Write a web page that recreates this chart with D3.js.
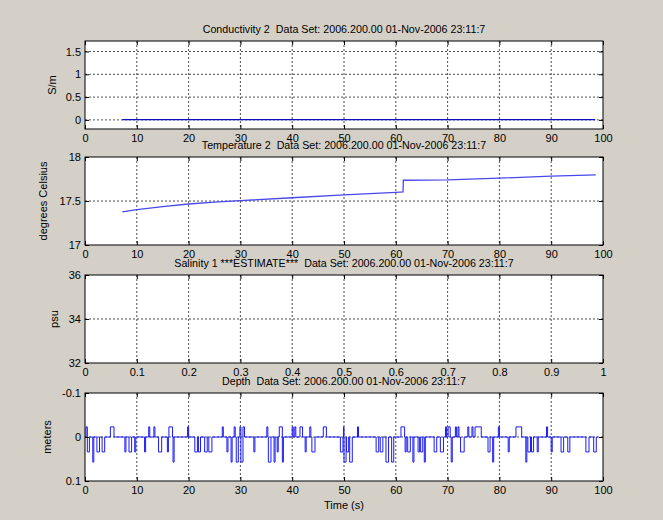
<html>
<head>
<style>
body { margin:0; background:#d4d0c8; }
text { font-family: Arial, "Liberation Sans", sans-serif; fill:#000; }
.tick text { font-size:11px; }
.title { font-size:10.7px; }
.label { font-size:11px; }
</style>
</head>
<body>
<svg id="plot"></svg>
<script src="https://d3js.org/d3.v7.min.js"></script>
<script>

// x ticks shared by the time plots
var timeTicks = [0,10,20,30,40,50,60,70,80,90,100]
var salXTicks = [0,0.1,0.2,0.3,0.4,0.5,0.6,0.7,0.8,0.9,1]

// Conductivity 2 (S/m) - flat near zero
var condT = [7.2, 20, 40, 60, 80, 98.5]
var condV = [0.005, 0.005, 0.005, 0.005, 0.005, 0.005]
var condTicks = [0,0.5,1,1.5]

// Temperature 2 (degrees C)
var tempT = [7.2, 10, 15, 20, 25, 30, 40, 50, 60, 61.4, 61.45, 70, 80, 90, 98.6]
var tempV = [17.377, 17.403, 17.437, 17.466, 17.487, 17.504, 17.537, 17.57, 17.598, 17.603, 17.736, 17.741, 17.76, 17.783, 17.798]
var tempTicks = [17,17.5,18]

// Salinity 1 - no data
var salTicks = [32,34,36]

// Depth (m) - pulses away from zero: start, end, level
var depthStart = [0.2,0.45,1.5,2.3,3.3,4.9,7.7,8.5,9.6,11.5,12.3,13.3,14.2,15.9,16.2,17.0,19.8,21.2,21.9,23.1,23.9,26.5,27.4,28.2,28.8,29.2,29.9,30.1,30.5,32.6,35.1,35.4,36.5,37.1,37.5,38.1,40.0,40.5,41.5,42.5,43.4,43.8,46.0,49.3,49.9,50.0,50.5,51.1,52.6,56.2,57.0,58.1,59.2,61.0,61.8,62.3,63.3,64.3,64.8,65.5,67.4,68.6,69.6,70.1,70.7,71.5,72.0,72.5,73.9,74.7,75.3,77.8,78.7,79.8,81.7,83.2,85.1,85.5,86.2,87.3,89.1,90.0,91.9,93.2,96.7,98.2]
var depthEnd = [0.45,0.85,1.7,2.8,3.8,5.6,7.9,9.0,9.8,11.7,12.5,13.5,14.8,16.1,16.9,17.2,20.0,21.7,22.3,23.6,24.5,26.7,27.6,28.4,29.0,29.6,30.1,30.5,30.8,32.8,35.3,35.9,36.7,37.3,38.1,38.3,40.2,40.7,42.0,42.7,43.6,44.4,46.6,49.8,50.0,50.4,50.9,51.6,52.8,56.7,57.5,58.6,59.6,61.7,62.0,62.8,63.5,64.6,65.2,65.7,67.9,69.2,69.8,70.5,70.9,71.7,72.2,73.2,74.1,74.9,76.5,78.2,78.9,80.0,81.9,84.3,85.3,86.0,86.6,87.5,89.3,90.2,92.4,93.6,97.3,98.7]
var depthLevel = [-0.023,0.034,0.057,0.034,0.034,-0.023,0.034,0.034,0.034,0.034,-0.023,-0.023,0.034,0.034,-0.023,0.057,-0.023,0.034,0.034,0.034,0.034,-0.023,0.034,0.057,-0.023,0.057,-0.023,0.057,-0.023,0.034,-0.023,0.057,0.057,0.034,-0.023,0.057,-0.023,-0.023,-0.023,0.034,-0.023,0.034,-0.023,0.034,-0.023,0.057,0.034,0.057,-0.023,0.034,0.034,0.057,0.057,-0.023,0.034,0.034,0.057,0.034,0.034,0.057,0.034,0.034,-0.023,-0.023,0.057,-0.023,-0.023,0.034,-0.023,-0.023,-0.023,0.034,0.057,-0.023,0.034,-0.023,0.057,0.034,0.034,0.034,-0.023,0.034,0.034,0.034,0.034,0.034]
var depthTicks = [-0.1,0,0.1]
var depthEndT = 99

var titleText = "  Data Set: 2006.200.00 01-Nov-2006 23:11:7"

var screen = {width:663, height:520}
var plotLeft = 85, plotW = 518, plotH = 88

var svg = d3.select("#plot")
    .attr("width",screen.width)
    .attr("height",screen.height)

svg.append("rect")
    .attr("width",screen.width)
    .attr("height",screen.height)
    .attr("fill","#d4d0c8")

var fmt = function(d){ return String(d) }

// draws one subplot: box, grid, ticks, labels
var makePanel = function(top,xDomain,xTicks,yDomain,yTicks,title,ylabel,ylabelX)
{
    var g = svg.append("g")
        .attr("transform","translate("+plotLeft+","+top+")")

    var xScale = d3.scaleLinear().domain(xDomain).range([0,plotW])
    var yScale = d3.scaleLinear().domain(yDomain).range([plotH,0])

    g.append("rect")
        .attr("width",plotW)
        .attr("height",plotH)
        .attr("fill","white")

    //grid
    var grid = g.append("g").attr("stroke","#222").attr("stroke-dasharray","2,2").attr("stroke-width",0.8)
    xTicks.forEach(function(t)
    {
        var x = xScale(t)
        if(x > 0.5 && x < plotW-0.5)
            grid.append("line").attr("x1",x).attr("x2",x).attr("y1",0).attr("y2",plotH)
    })
    yTicks.forEach(function(t)
    {
        var y = yScale(t)
        if(y > 0.5 && y < plotH-0.5)
            grid.append("line").attr("y1",y).attr("y2",y).attr("x1",0).attr("x2",plotW)
    })

    var dataLayer = g.append("g")

    g.append("g")
        .attr("transform","translate(0,"+plotH+")")
        .call(d3.axisBottom(xScale).tickValues(xTicks).tickFormat(fmt).tickSize(-4).tickPadding(5))
    g.append("g")
        .call(d3.axisTop(xScale).tickValues(xTicks).tickFormat("").tickSize(-4))
    g.append("g")
        .call(d3.axisLeft(yScale).tickValues(yTicks).tickFormat(fmt).tickSize(-4).tickPadding(4))
    g.append("g")
        .attr("transform","translate("+plotW+",0)")
        .call(d3.axisRight(yScale).tickValues(yTicks).tickFormat("").tickSize(-4))

    g.selectAll(".domain").remove()
    g.selectAll(".tick line").attr("stroke","#000")
    g.selectAll(".tick text").attr("font-family",null).attr("font-size",null)

    g.append("rect")
        .attr("width",plotW)
        .attr("height",plotH)
        .attr("fill","none")
        .attr("stroke","#000")
        .attr("stroke-width",1)

    svg.append("text")
        .classed("title",true)
        .attr("text-anchor","middle")
        .attr("x",plotLeft+plotW/2)
        .attr("y",top-8)
        .attr("xml:space","preserve")
        .style("white-space","pre")
        .text(title)

    svg.append("text")
        .classed("label",true)
        .attr("text-anchor","middle")
        .attr("transform","translate("+ylabelX+","+(top+plotH/2)+") rotate(-90)")
        .text(ylabel)

    return {g:dataLayer, x:xScale, y:yScale}
}

// Conductivity
var p1 = makePanel(41,[0,100],timeTicks,[-0.2,1.73],condTicks,"Conductivity 2"+titleText,"S/m",56)
var condPts = condT.map(function(t,i){ return [t,condV[i]] })
p1.g.append("path")
    .datum(condPts)
    .attr("fill","none")
    .attr("stroke","#1010c0")
    .attr("stroke-width",1.3)
    .attr("d",d3.line().x(function(d){return p1.x(d[0])}).y(function(d){return p1.y(d[1])}))

// Temperature
var p2 = makePanel(157,[0,100],timeTicks,[17,18],tempTicks,"Temperature 2"+titleText,"degrees Celsius",47)
var tempPts = tempT.map(function(t,i){ return [t,tempV[i]] })
p2.g.append("path")
    .datum(tempPts)
    .attr("fill","none")
    .attr("stroke","#4848ec")
    .attr("stroke-width",1.3)
    .attr("d",d3.line().x(function(d){return p2.x(d[0])}).y(function(d){return p2.y(d[1])}))

// Salinity (empty)
var p3 = makePanel(275,[0,1],salXTicks,[32,36],salTicks,"Salinity 1 ***ESTIMATE***"+titleText,"psu",58)

// Depth, axis reversed (-0.1 at top)
var p4 = makePanel(393,[0,100],timeTicks,[0.1,-0.1],depthTicks,"Depth"+titleText,"meters",51)
var depthPts = [[0,0]]
depthStart.forEach(function(s,i)
{
    depthPts.push([s,0],[s,depthLevel[i]],[depthEnd[i],depthLevel[i]],[depthEnd[i],0])
})
depthPts.push([depthEndT,0])
p4.g.append("path")
    .datum(depthPts)
    .attr("fill","none")
    .attr("stroke","#1a1af5")
    .attr("stroke-width",1)
    .attr("d",d3.line().x(function(d){return p4.x(d[0])}).y(function(d){return p4.y(d[1])}))

svg.append("text")
    .classed("label",true)
    .attr("text-anchor","middle")
    .attr("x",plotLeft+plotW/2)
    .attr("y",509)
    .text("Time (s)")

</script>
</body>
</html>
